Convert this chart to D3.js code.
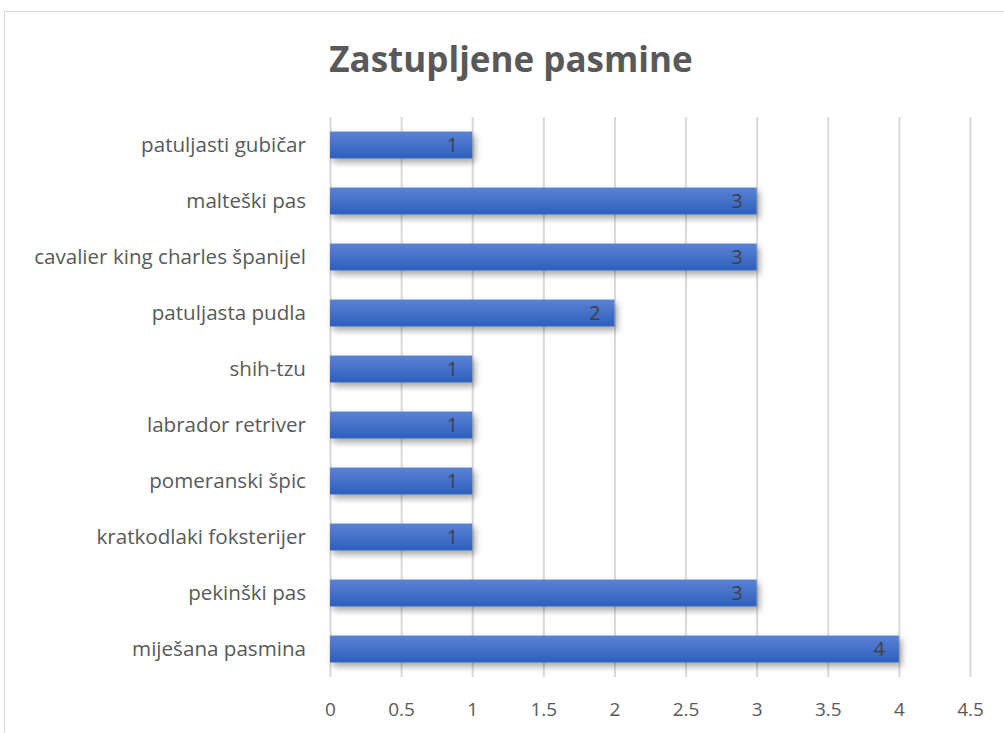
<!DOCTYPE html>
<html>
<head>
<meta charset="utf-8">
<script src="https://cdn.jsdelivr.net/npm/d3@7"></script>
<style>
  body { margin: 0; background: #fff; }
  text { font-family: "Open Sans", sans-serif; }
</style>
</head>
<body>
<div id="wrapper"></div>
<script>
const breeds = [
  "patuljasti gubičar",
  "malteški pas",
  "cavalier king charles španijel",
  "patuljasta pudla",
  "shih-tzu",
  "labrador retriver",
  "pomeranski špic",
  "kratkodlaki foksterijer",
  "pekinški pas",
  "miješana pasmina",
];
const counts = [1, 3, 3, 2, 1, 1, 1, 1, 3, 4];
const xTicks = [0, 0.5, 1, 1.5, 2, 2.5, 3, 3.5, 4, 4.5];

const width = 1004, height = 733;
const margin = { top: 117, right: 34, bottom: 56, left: 330 };

const svg = d3.select("#wrapper").append("svg")
  .attr("width", width)
  .attr("height", height);

const defs = svg.append("defs");
const grad = defs.append("linearGradient")
  .attr("id", "barGrad")
  .attr("x1", 0).attr("y1", 0).attr("x2", 0).attr("y2", 1);
grad.append("stop").attr("offset", "0%").attr("stop-color", "#5b82d3");
grad.append("stop").attr("offset", "100%").attr("stop-color", "#2e5ebd");

const shadow = defs.append("filter")
  .attr("id", "shadow")
  .attr("x", "-10%").attr("y", "-30%")
  .attr("width", "130%").attr("height", "190%");
shadow.append("feDropShadow")
  .attr("dx", 3).attr("dy", 4)
  .attr("stdDeviation", 3)
  .attr("flood-color", "#000")
  .attr("flood-opacity", 0.35);

// chart border
svg.append("rect")
  .attr("x", 4.5).attr("y", 11.5)
  .attr("width", 1010).attr("height", 740)
  .attr("fill", "none")
  .attr("stroke", "#d9d9d9");

const x = d3.scaleLinear()
  .domain([0, 4.5])
  .range([margin.left, width - margin.right]);

const y = d3.scaleBand()
  .domain(breeds)
  .range([margin.top, height - margin.bottom])
  .paddingInner(0.52)
  .paddingOuter(0.26);

svg.append("text")
  .attr("x", 511)
  .attr("y", 72)
  .attr("text-anchor", "middle")
  .attr("fill", "#595959")
  .style("font-size", "35px")
  .style("font-weight", "bold")
  .text("Zastupljene pasmine");

// gridlines
svg.append("g")
  .selectAll("line")
  .data(xTicks)
  .join("line")
    .attr("x1", d => x(d) + 0.5)
    .attr("x2", d => x(d) + 0.5)
    .attr("y1", margin.top)
    .attr("y2", height - margin.bottom)
    .attr("stroke", "#d9d9d9")
    .attr("stroke-width", 2);

// x tick labels
const xAxis = d3.axisBottom(x).tickValues(xTicks).tickSize(0).tickPadding(26)
  .tickFormat(d3.format(""));
svg.append("g")
  .attr("transform", `translate(0, ${height - margin.bottom})`)
  .call(xAxis)
  .call(g => g.select(".domain").remove())
  .call(g => g.selectAll("text")
    .attr("fill", "#595959")
    .style("font-size", "19px")
    .style("font-family", "'Open Sans', sans-serif"));

// y labels
const yAxis = d3.axisLeft(y).tickSize(0).tickPadding(24);
svg.append("g")
  .attr("transform", `translate(${margin.left}, 0)`)
  .call(yAxis)
  .call(g => g.select(".domain").remove())
  .call(g => g.selectAll("text")
    .attr("fill", "#595959")
    .style("font-size", "20.6px")
    .style("font-family", "'Open Sans', sans-serif"));

// bars
const bars = svg.append("g")
  .selectAll("rect")
  .data(breeds)
  .join("rect")
    .attr("x", x(0))
    .attr("y", d => y(d))
    .attr("width", (d, i) => x(counts[i]) - x(0))
    .attr("height", y.bandwidth())
    .attr("fill", "url(#barGrad)")
    .attr("filter", "url(#shadow)");

// data labels
svg.append("g")
  .selectAll("text")
  .data(breeds)
  .join("text")
    .attr("x", (d, i) => x(counts[i]) - 14)
    .attr("y", d => y(d) + y.bandwidth() / 2)
    .attr("dy", "0.36em")
    .attr("text-anchor", "end")
    .attr("fill", "#404040")
    .style("font-size", "20px")
    .text((d, i) => counts[i]);
</script>
</body>
</html>
